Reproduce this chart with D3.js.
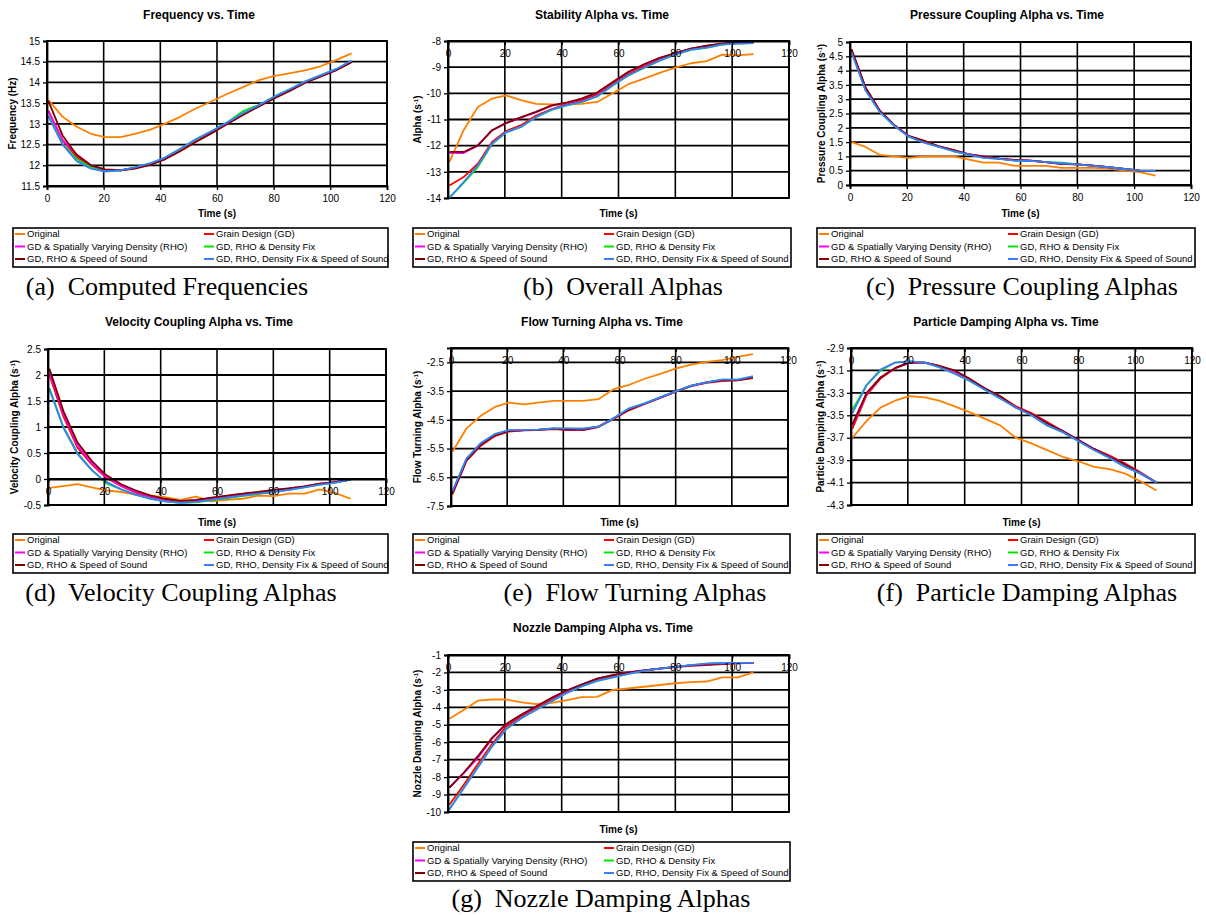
<!DOCTYPE html>
<html>
<head>
<meta charset="utf-8">
<script src="https://cdn.jsdelivr.net/npm/d3@7"></script>
<style>
  body { margin: 0; background: #fff; }
  svg text { font-family: "Liberation Sans", Arial, sans-serif; }
</style>
</head>
<body>
<svg id="chart" width="1206" height="915"></svg>
<script>
// shared x values (s)
const time = [0.5, 5.5, 10.5, 15.5, 20.5, 26, 31, 36.5, 41.5, 47, 52.5, 58, 63.5, 69, 74.5, 80, 85.5, 91, 96.5, 102, 107.5];
const timeTicks = [0, 20, 40, 60, 80, 100, 120];

const seriesNames = [
  "Original",
  "Grain Design (GD)",
  "GD & Spatially Varying Density (RHO)",
  "GD, RHO & Density Fix",
  "GD, RHO & Speed of Sound",
  "GD, RHO, Density Fix & Speed of Sound"
];
const seriesColors = ["#ff8000", "#ff0000", "#ff00ff", "#00e600", "#800000", "#3a7dff"];

// (a) frequency, Hz  -- order: original, GD, RHO, density fix, speed of sound, all
const freqValues = [
  [13.58, 13.17, 12.93, 12.76, 12.68, 12.68, 12.76, 12.86, 13.0, 13.17, 13.37, 13.54, 13.72, 13.88, 14.05, 14.15, 14.22, 14.29, 14.39, 14.54, 14.7],
  [13.32, 12.6, 12.2, 11.98, 11.88, 11.88, 11.93, 12.02, 12.15, 12.35, 12.57, 12.78, 13.0, 13.22, 13.42, 13.62, 13.8, 14.0, 14.15, 14.3, 14.5],
  [13.3, 12.62, 12.26, 12.0, 11.89, 11.88, 11.93, 12.02, 12.15, 12.36, 12.58, 12.79, 13.01, 13.23, 13.43, 13.63, 13.81, 14.0, 14.15, 14.31, 14.5],
  [13.2, 12.52, 12.15, 11.95, 11.86, 11.88, 11.95, 12.04, 12.18, 12.39, 12.62, 12.82, 13.03, 13.3, 13.45, 13.65, 13.83, 14.02, 14.17, 14.32, 14.52],
  [13.55, 12.72, 12.25, 12.0, 11.9, 11.88, 11.92, 12.01, 12.14, 12.34, 12.56, 12.77, 12.99, 13.21, 13.41, 13.61, 13.79, 13.99, 14.14, 14.29, 14.49],
  [13.18, 12.5, 12.1, 11.92, 11.85, 11.88, 11.95, 12.05, 12.18, 12.4, 12.63, 12.82, 13.03, 13.25, 13.44, 13.65, 13.83, 14.02, 14.17, 14.32, 14.53]
];
const freqTicks = [11.5, 12, 12.5, 13, 13.5, 14, 14.5, 15];

// (b) overall alpha
const stabilityValues = [
  [-12.62, -11.41, -10.52, -10.2, -10.08, -10.27, -10.4, -10.42, -10.42, -10.4, -10.33, -10.0, -9.65, -9.44, -9.22, -9.02, -8.85, -8.77, -8.52, -8.55, -8.5],
  [-13.52, -13.2, -12.69, -11.86, -11.44, -11.2, -10.85, -10.6, -10.43, -10.27, -10.05, -9.63, -9.27, -8.97, -8.71, -8.48, -8.29, -8.2, -8.13, -8.08, -8.06],
  [-12.27, -12.28, -12.0, -11.42, -11.14, -10.92, -10.72, -10.47, -10.37, -10.21, -9.98, -9.58, -9.19, -8.9, -8.65, -8.47, -8.3, -8.19, -8.1, -8.05, -8.03],
  [-13.99, -13.42, -12.82, -11.94, -11.49, -11.27, -10.91, -10.63, -10.47, -10.34, -10.12, -9.7, -9.32, -9.03, -8.75, -8.52, -8.34, -8.26, -8.14, -8.1, -8.08],
  [-12.24, -12.24, -11.99, -11.41, -11.13, -10.9, -10.71, -10.46, -10.36, -10.2, -9.97, -9.57, -9.18, -8.89, -8.64, -8.46, -8.29, -8.18, -8.1, -8.05, -8.03],
  [-13.99, -13.39, -12.75, -11.92, -11.48, -11.26, -10.9, -10.62, -10.46, -10.33, -10.11, -9.69, -9.31, -9.02, -8.74, -8.51, -8.33, -8.25, -8.13, -8.1, -8.08]
];
const stabilityTicks = [-14, -13, -12, -11, -10, -9, -8];

// (c) pressure coupling alpha
const pressureValues = [
  [1.5, 1.33, 1.05, 1.0, 0.95, 1.0, 1.0, 1.0, 0.9, 0.78, 0.78, 0.67, 0.67, 0.67, 0.6, 0.6, 0.6, 0.57, 0.5, 0.45, 0.33],
  [4.75, 3.4, 2.6, 2.1, 1.72, 1.55, 1.36, 1.22, 1.08, 1.0, 0.92, 0.88, 0.85, 0.8, 0.75, 0.72, 0.68, 0.62, 0.56, 0.5, 0.49],
  [4.72, 3.38, 2.58, 2.1, 1.71, 1.53, 1.35, 1.21, 1.08, 0.99, 0.92, 0.87, 0.85, 0.8, 0.74, 0.72, 0.68, 0.62, 0.56, 0.5, 0.49],
  [4.66, 3.31, 2.55, 2.08, 1.7, 1.49, 1.34, 1.18, 1.07, 0.96, 0.91, 0.85, 0.84, 0.8, 0.78, 0.72, 0.67, 0.62, 0.56, 0.5, 0.49],
  [4.74, 3.4, 2.6, 2.1, 1.72, 1.54, 1.36, 1.22, 1.08, 0.99, 0.92, 0.87, 0.85, 0.8, 0.73, 0.72, 0.68, 0.62, 0.56, 0.5, 0.49],
  [4.65, 3.3, 2.55, 2.08, 1.7, 1.48, 1.34, 1.18, 1.07, 0.95, 0.91, 0.85, 0.84, 0.8, 0.76, 0.72, 0.67, 0.62, 0.56, 0.5, 0.49]
];
const pressureTicks = [0, 0.5, 1, 1.5, 2, 2.5, 3, 3.5, 4, 4.5, 5];

// (d) velocity coupling alpha
const velocityValues = [
  [-0.17, -0.135, -0.1, -0.16, -0.22, -0.25, -0.3, -0.32, -0.35, -0.4, -0.34, -0.43, -0.4, -0.38, -0.32, -0.33, -0.28, -0.28, -0.2, -0.27, -0.38],
  [2.0, 1.2, 0.6, 0.28, 0.03, -0.14, -0.26, -0.35, -0.41, -0.44, -0.42, -0.38, -0.34, -0.3, -0.27, -0.23, -0.19, -0.15, -0.1, -0.06, -0.01],
  [2.05, 1.25, 0.64, 0.3, 0.05, -0.13, -0.25, -0.34, -0.4, -0.43, -0.41, -0.37, -0.33, -0.29, -0.26, -0.22, -0.18, -0.14, -0.09, -0.06, -0.01],
  [1.75, 1.0, 0.5, 0.18, -0.08, -0.2, -0.3, -0.38, -0.43, -0.46, -0.45, -0.41, -0.37, -0.33, -0.29, -0.25, -0.21, -0.16, -0.11, -0.07, -0.01],
  [2.12, 1.3, 0.7, 0.35, 0.08, -0.1, -0.22, -0.32, -0.38, -0.42, -0.4, -0.36, -0.32, -0.28, -0.25, -0.21, -0.18, -0.14, -0.09, -0.06, -0.01],
  [1.72, 0.98, 0.48, 0.17, -0.05, -0.2, -0.3, -0.38, -0.43, -0.46, -0.44, -0.4, -0.36, -0.32, -0.28, -0.25, -0.21, -0.16, -0.11, -0.07, -0.01]
];
const velocityTicks = [-0.5, 0, 0.5, 1, 1.5, 2, 2.5];

// (e) flow turning alpha
const flowValues = [
  [-5.61, -4.8, -4.37, -4.06, -3.9, -3.96, -3.9, -3.84, -3.84, -3.84, -3.78, -3.43, -3.28, -3.07, -2.9, -2.72, -2.58, -2.48, -2.42, -2.31, -2.21],
  [-7.1, -5.93, -5.41, -5.07, -4.91, -4.87, -4.86, -4.82, -4.86, -4.86, -4.75, -4.46, -4.16, -3.95, -3.74, -3.52, -3.33, -3.21, -3.15, -3.13, -3.05],
  [-7.05, -5.9, -5.37, -5.04, -4.89, -4.86, -4.85, -4.81, -4.84, -4.84, -4.74, -4.45, -4.13, -3.94, -3.73, -3.52, -3.32, -3.2, -3.13, -3.12, -3.02],
  [-7.0, -5.86, -5.33, -5.01, -4.87, -4.85, -4.84, -4.8, -4.81, -4.81, -4.74, -4.44, -4.1, -3.93, -3.72, -3.51, -3.31, -3.2, -3.1, -3.1, -2.99],
  [-7.06, -5.91, -5.38, -5.05, -4.89, -4.86, -4.85, -4.81, -4.84, -4.84, -4.74, -4.45, -4.14, -3.94, -3.73, -3.52, -3.32, -3.2, -3.13, -3.12, -3.03],
  [-6.99, -5.85, -5.32, -5.0, -4.86, -4.85, -4.84, -4.8, -4.8, -4.81, -4.74, -4.44, -4.1, -3.93, -3.72, -3.51, -3.31, -3.2, -3.1, -3.1, -2.99]
];
const flowTicks = [-7.5, -6.5, -5.5, -4.5, -3.5, -2.5];

// (f) particle damping alpha
const particleValues = [
  [-3.7, -3.55, -3.43, -3.37, -3.33, -3.34, -3.37, -3.42, -3.47, -3.53, -3.59, -3.7, -3.75, -3.81, -3.87, -3.91, -3.96, -3.98, -4.02, -4.09, -4.17],
  [-3.62, -3.32, -3.17, -3.08, -3.03, -3.03, -3.06, -3.11, -3.18, -3.26, -3.33, -3.42, -3.48, -3.56, -3.64, -3.72, -3.8, -3.86, -3.93, -4.01, -4.1],
  [-3.59, -3.31, -3.16, -3.08, -3.03, -3.03, -3.06, -3.11, -3.18, -3.26, -3.34, -3.43, -3.49, -3.57, -3.64, -3.72, -3.8, -3.87, -3.94, -4.02, -4.1],
  [-3.45, -3.23, -3.1, -3.03, -3.02, -3.03, -3.07, -3.13, -3.19, -3.27, -3.35, -3.43, -3.5, -3.59, -3.65, -3.73, -3.81, -3.88, -3.96, -4.02, -4.1],
  [-3.58, -3.3, -3.16, -3.08, -3.03, -3.03, -3.06, -3.1, -3.17, -3.26, -3.33, -3.43, -3.49, -3.57, -3.64, -3.72, -3.8, -3.87, -3.94, -4.02, -4.1],
  [-3.48, -3.23, -3.09, -3.03, -3.02, -3.03, -3.07, -3.13, -3.19, -3.27, -3.35, -3.43, -3.5, -3.59, -3.65, -3.73, -3.81, -3.88, -3.96, -4.02, -4.1]
];
const particleTicks = [-4.3, -4.1, -3.9, -3.7, -3.5, -3.3, -3.1, -2.9];

// (g) nozzle damping alpha
const nozzleValues = [
  [-4.65, -4.15, -3.62, -3.55, -3.55, -3.72, -3.82, -3.75, -3.6, -3.42, -3.4, -3.0, -2.92, -2.82, -2.72, -2.62, -2.55, -2.52, -2.28, -2.28, -2.0],
  [-9.59, -8.45, -7.25, -6.1, -5.1, -4.5, -4.05, -3.55, -3.1, -2.72, -2.4, -2.2, -2.02, -1.88, -1.78, -1.7, -1.62, -1.58, -1.52, -1.48, -1.45],
  [-8.6, -7.78, -6.9, -5.8, -4.97, -4.42, -3.96, -3.46, -3.06, -2.7, -2.36, -2.15, -2.0, -1.88, -1.78, -1.68, -1.6, -1.55, -1.5, -1.45, -1.45],
  [-9.83, -8.63, -7.43, -6.23, -5.23, -4.6, -4.14, -3.64, -3.19, -2.8, -2.48, -2.28, -2.08, -1.9, -1.78, -1.68, -1.58, -1.5, -1.46, -1.45, -1.45],
  [-8.6, -7.75, -6.8, -5.75, -4.95, -4.4, -3.95, -3.45, -3.05, -2.7, -2.35, -2.15, -2.0, -1.88, -1.78, -1.68, -1.6, -1.55, -1.5, -1.45, -1.45],
  [-9.85, -8.65, -7.45, -6.25, -5.25, -4.6, -4.15, -3.65, -3.2, -2.8, -2.48, -2.28, -2.08, -1.9, -1.78, -1.68, -1.58, -1.5, -1.46, -1.45, -1.45]
];
const nozzleTicks = [-10, -9, -8, -7, -6, -5, -4, -3, -2, -1];

const titles = [
  "Frequency vs. Time", "Stability Alpha vs. Time", "Pressure Coupling Alpha vs. Time",
  "Velocity Coupling Alpha vs. Time", "Flow Turning Alpha vs. Time", "Particle Damping Alpha vs. Time",
  "Nozzle Damping Alpha vs. Time"
];
// y titles: [text, superscript, closing]
const yTitles = [
  ["Frequency (Hz)", "", ""],
  ["Alpha (s", "-1", ")"],
  ["Pressure Coupling Alpha (s", "-1", ")"],
  ["Velocity Coupling Alpha (s", "-1", ")"],
  ["Flow Turning Alpha (s", "-1", ")"],
  ["Particle Damping Alpha (s", "-1", ")"],
  ["Nozzle Damping Alpha (s", "-1", ")"]
];
const captions = [
  "(a)  Computed Frequencies", "(b)  Overall Alphas", "(c)  Pressure Coupling Alphas",
  "(d)  Velocity Coupling Alphas", "(e)  Flow Turning Alphas", "(f)  Particle Damping Alphas",
  "(g)  Nozzle Damping Alphas"
];

/* Set up */
/* ====== */
const svg = d3.select("#chart");

// where each small chart sits on the page
const panels = [
  { values: freqValues, ticks: freqTicks, domain: [11.5, 15], cross: 11.5,
    left: 47, right: 387, top: 41, bottom: 186, titleX: 199, titleY: 19, yTitleX: 12, xTitleY: 217,
    legX: 13, legW: 375, legY: 228, capX: 167, capY: 295 },
  { values: stabilityValues, ticks: stabilityTicks, domain: [-14, -8], cross: -8,
    left: 448, right: 789, top: 41, bottom: 198, titleX: 602, titleY: 19, yTitleX: 417, xTitleY: 217,
    legX: 413, legW: 378, legY: 228, capX: 623, capY: 295 },
  { values: pressureValues, ticks: pressureTicks, domain: [0, 5], cross: 0,
    left: 850, right: 1191, top: 42, bottom: 185, titleX: 1007, titleY: 19, yTitleX: 821, xTitleY: 217,
    legX: 817, legW: 378, legY: 228, capX: 1022, capY: 295 },
  { values: velocityValues, ticks: velocityTicks, domain: [-0.5, 2.5], cross: 0,
    left: 48, right: 386, top: 349, bottom: 505, titleX: 199, titleY: 326, yTitleX: 14, xTitleY: 526,
    legX: 13, legW: 375, legY: 534, capX: 181, capY: 601 },
  { values: flowValues, ticks: flowTicks, domain: [-7.5, -2], cross: -2,
    left: 451, right: 788, top: 348, bottom: 506, titleX: 602, titleY: 326, yTitleX: 417, xTitleY: 526,
    legX: 413, legW: 377, legY: 534, capX: 635, capY: 601 },
  { values: particleValues, ticks: particleTicks, domain: [-4.3, -2.9], cross: -2.9,
    left: 851, right: 1192, top: 348, bottom: 505, titleX: 1006, titleY: 326, yTitleX: 820, xTitleY: 526,
    legX: 817, legW: 378, legY: 534, capX: 1027, capY: 601 },
  { values: nozzleValues, ticks: nozzleTicks, domain: [-10, -1], cross: -1,
    left: 448, right: 789, top: 655, bottom: 812, titleX: 603, titleY: 632, yTitleX: 417, xTitleY: 833,
    legX: 413, legW: 377, legY: 842, capX: 601, capY: 907 }
];

const drawOrder = [0, 1, 2, 3, 4, 5];

const drawPanel = (p, idx) => {
  const x = d3.scaleLinear().domain([0, 120]).range([p.left, p.right]);
  const y = d3.scaleLinear().domain(p.domain).range([p.bottom, p.top]);
  const g = svg.append("g");

  // gridlines
  g.selectAll(".hgrid").data(p.ticks).join("line")
    .attr("class", "hgrid")
    .attr("x1", p.left).attr("x2", p.right)
    .attr("y1", d => y(d)).attr("y2", d => y(d))
    .attr("stroke", "#000").attr("stroke-width", 1.8);
  g.selectAll(".vgrid").data(timeTicks).join("line")
    .attr("class", "vgrid")
    .attr("x1", d => x(d)).attr("x2", d => x(d))
    .attr("y1", p.top).attr("y2", p.bottom)
    .attr("stroke", "#000").attr("stroke-width", 1.6);
  g.append("rect")
    .attr("x", p.left).attr("y", p.top)
    .attr("width", p.right - p.left).attr("height", p.bottom - p.top)
    .attr("fill", "none").attr("stroke", "#000").attr("stroke-width", 1.8);

  // series
  const line = d3.line().x((d, i) => x(time[i])).y(d => y(d));
  drawOrder.forEach(k => {
    g.append("path")
      .datum(p.values[k])
      .attr("d", line)
      .attr("fill", "none")
      .attr("stroke", seriesColors[k])
      .attr("stroke-width", 1.8)
      .attr("stroke-linejoin", "round");
  });

  // axes
  const yAxis = g.append("g")
    .attr("transform", `translate(${p.left},0)`)
    .call(d3.axisLeft(y).tickValues(p.ticks).tickFormat(d => String(d)).tickSize(4).tickPadding(3));
  const xAxis = g.append("g")
    .attr("transform", `translate(0,${y(p.cross)})`)
    .call(d3.axisBottom(x).tickValues(timeTicks).tickFormat(d => String(d)).tickSize(4).tickPadding(5));
  [yAxis, xAxis].forEach(a => {
    a.attr("font-family", null).attr("font-size", null);
    a.select(".domain").attr("stroke", "#000").attr("stroke-width", 1.8);
    a.selectAll(".tick line").attr("stroke", "#000").attr("stroke-width", 1.3);
    a.selectAll(".tick text").attr("fill", "#000").style("font-size", "10px");
  });

  // titles
  g.append("text")
    .attr("x", p.titleX).attr("y", p.titleY)
    .attr("text-anchor", "middle")
    .style("font-size", "12px").style("font-weight", "bold")
    .text(titles[idx]);

  g.append("text")
    .attr("x", (p.left + p.right) / 2).attr("y", p.xTitleY)
    .attr("text-anchor", "middle")
    .style("font-size", "10px").style("font-weight", "bold")
    .text("Time (s)");

  const yt = g.append("text")
    .attr("transform", `translate(${p.yTitleX + 3.5},${(p.top + p.bottom) / 2}) rotate(-90)`)
    .attr("text-anchor", "middle")
    .style("font-size", "10px").style("font-weight", "bold");
  const parts = yTitles[idx];
  yt.append("tspan").text(parts[0]);
  if (parts[1]) {
    yt.append("tspan").attr("dy", -3).style("font-size", "6px").text(parts[1]);
    yt.append("tspan").attr("dy", 3).text(parts[2]);
  }

  // legend
  const leg = g.append("g").attr("transform", `translate(${p.legX},${p.legY})`);
  leg.append("rect")
    .attr("width", p.legW).attr("height", 39)
    .attr("fill", "#fff").attr("stroke", "#000").attr("stroke-width", 1.6);
  seriesNames.forEach((name, i) => {
    const col = i % 2;
    const row = Math.floor(i / 2);
    const lx = col ? 191 : 2;
    const ly = 6 + row * 12.5;
    leg.append("line")
      .attr("x1", lx).attr("x2", lx + 10)
      .attr("y1", ly).attr("y2", ly)
      .attr("stroke", seriesColors[i]).attr("stroke-width", 2);
    leg.append("text")
      .attr("x", lx + 12).attr("y", ly)
      .attr("dy", "0.35em")
      .style("font-size", "9.5px")
      .text(name);
  });

  // caption
  g.append("text")
    .attr("x", p.capX).attr("y", p.capY)
    .attr("text-anchor", "middle")
    .style("font-family", '"Liberation Serif", "Times New Roman", serif')
    .style("font-size", "26px")
    .style("white-space", "pre")
    .text(captions[idx]);
};

panels.forEach(drawPanel);
</script>
</body>
</html>
